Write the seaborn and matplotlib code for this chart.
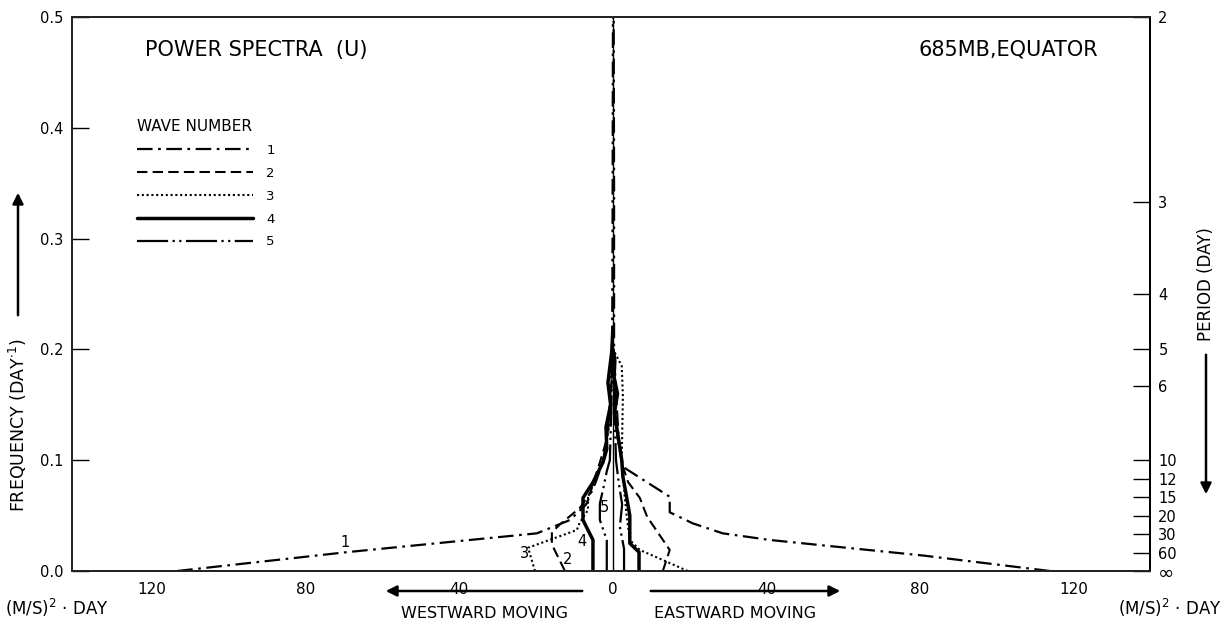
import matplotlib
matplotlib.use("Agg")
import matplotlib.pyplot as plt
import seaborn as sns
from matplotlib.lines import Line2D

sns.set_theme(style="white")
plt.rcParams['font.family'] = ['DejaVu Sans']
plt.rcParams['text.color'] = 'black'
plt.rcParams['xtick.color'] = 'black'
plt.rcParams['ytick.color'] = 'black'
plt.rcParams['axes.labelcolor'] = 'black'

# ---- data: power (west negative / east positive) vs frequency (day^-1) ----
w1_west_pow = [-113.5, -69.3, -19.8, -11.2, -7.0, -4.5, -2.5, -1.2, -0.5, -0.2, -0.1, 0.0]
w1_west_frq = [0.0, 0.017, 0.034, 0.046, 0.060, 0.080, 0.100, 0.130, 0.170, 0.200, 0.300, 0.500]
w1_east_pow = [113.8, 80.7, 40.9, 28.6, 20.8, 14.8, 14.8, 2.6, 1.5, 0.8, 0.3, 0.3, 0.2]
w1_east_frq = [0.0, 0.014, 0.028, 0.034, 0.043, 0.053, 0.067, 0.094, 0.120, 0.160, 0.200, 0.350, 0.500]

w2_west_pow = [-12.5, -15.9, -15.9, -13.8, -8.6, -6.0, -3.4, -1.5, -0.5, 0.0]
w2_west_frq = [0.0, 0.024, 0.035, 0.042, 0.057, 0.070, 0.098, 0.120, 0.160, 0.200]
w2_east_pow = [13.0, 14.8, 8.9, 7.0, 4.0, 2.5, 1.2, 0.5, 0.2]
w2_east_frq = [0.0, 0.019, 0.049, 0.066, 0.080, 0.095, 0.120, 0.150, 0.190]

w3_west_pow = [-20.3, -22.1, -9.4, -8.6, -6.5, -6.5, -4.7, -2.5, -1.0, -0.3, 0.0]
w3_west_frq = [0.0, 0.021, 0.037, 0.044, 0.055, 0.066, 0.082, 0.100, 0.130, 0.170, 0.200]
w3_east_pow = [19.5, 7.0, 4.4, 3.6, 3.0, 2.3, 2.6, 2.3, 0.5, 0.0]
w3_east_frq = [0.0, 0.019, 0.028, 0.049, 0.070, 0.103, 0.157, 0.185, 0.197, 0.200]

w4_west_pow = [-5.2, -5.2, -7.8, -7.8, -5.2, -2.6, -1.6, -1.8, -0.6, -1.3, -0.3, 0.0]
w4_west_frq = [0.0, 0.028, 0.046, 0.066, 0.080, 0.098, 0.110, 0.130, 0.150, 0.170, 0.198, 0.220]
w4_east_pow = [6.8, 6.8, 4.4, 4.4, 3.4, 2.6, 2.3, 1.2, 0.4, 1.2, 0.3, 0.5, 0.0]
w4_east_frq = [0.0, 0.017, 0.025, 0.050, 0.070, 0.085, 0.100, 0.125, 0.143, 0.160, 0.175, 0.190, 0.200]

w5_west_pow = [-1.6, -1.6, -3.4, -3.4, -2.6, -1.6, -0.8, -0.4, -0.2]
w5_west_frq = [0.0, 0.028, 0.046, 0.061, 0.073, 0.090, 0.100, 0.150, 0.200]
w5_east_pow = [2.9, 2.9, 1.8, 2.4, 1.5, 0.8, 0.4, 0.2]
w5_east_frq = [0.0, 0.020, 0.040, 0.060, 0.080, 0.100, 0.150, 0.200]

wave_labels = ["1", "2", "3", "4", "5"]
curve_labels = {"1": (-69.8, 0.026), "2": (-11.7, 0.010), "3": (-23.0, 0.016),
                "4": (-8.0, 0.027), "5": (-2.3, 0.057)}

x_ticks = [-120, -80, -40, 0, 40, 80, 120]
x_ticklabels = ["120", "80", "40", "0", "40", "80", "120"]
y_ticks = [0.0, 0.1, 0.2, 0.3, 0.4, 0.5]
y_ticklabels = ["0.0", "0.1", "0.2", "0.3", "0.4", "0.5"]
periods = [2, 3, 4, 5, 6, 10, 12, 15, 20, 30, 60]
period_labels = ["2", "3", "4", "5", "6", "10", "12", "15", "20", "30", "60", "∞"]

# ---- styles ----
styles = {
    "1": dict(linestyle=(0, (7, 2.5, 1.2, 2.5)), lw=1.6),
    "2": dict(linestyle=(0, (5, 2.5)), lw=1.5),
    "3": dict(linestyle=(0, (1, 1.3)), lw=1.5),
    "4": dict(linestyle="-", lw=2.5),
    "5": dict(linestyle=(0, (14, 2, 1, 2, 1, 2)), lw=1.6),
}
data = {
    "1": [(w1_west_pow, w1_west_frq), (w1_east_pow, w1_east_frq)],
    "2": [(w2_west_pow, w2_west_frq), (w2_east_pow, w2_east_frq)],
    "3": [(w3_west_pow, w3_west_frq), (w3_east_pow, w3_east_frq)],
    "4": [(w4_west_pow, w4_west_frq), (w4_east_pow, w4_east_frq)],
    "5": [(w5_west_pow, w5_west_frq), (w5_east_pow, w5_east_frq)],
}

W, H = 1225, 635
fig = plt.figure(figsize=(W / 100, H / 100), dpi=100)
L, R, T, B = 72, 1150, 17, 571
ax = fig.add_axes([L / W, 1 - B / H, (R - L) / W, (B - T) / H])

for k in wave_labels:
    for xs, ys in data[k]:
        sns.lineplot(x=xs, y=ys, sort=False, estimator=None, color="black",
                     ax=ax, legend=False, **styles[k])

ax.axvline(0, color="black", lw=1.0)

ax.set_xlim(-140.9, 139.9)
ax.set_ylim(0, 0.5)
ax.set_xticks(x_ticks)
ax.set_xticklabels(x_ticklabels, fontsize=11)
ax.set_yticks(y_ticks)
ax.set_yticklabels(y_ticklabels, fontsize=10.5)
ax.tick_params(axis="x", direction="in", length=6, width=1, pad=8, colors="black")
ax.tick_params(axis="y", direction="in", length=12, width=1, pad=6, colors="black")
for s in ax.spines.values():
    s.set_color("black")
    s.set_linewidth(1.3)
ax.set_xlabel("")
ax.set_ylabel("")

ax2 = ax.twinx()
ax2.set_ylim(0, 0.5)
ax2.set_yticks([1.0 / p for p in periods] + [0.0])
ax2.set_yticklabels(period_labels, fontsize=10.5)
ax2.tick_params(axis="y", direction="in", length=12, width=1, pad=6, colors="black")
ax2.spines["right"].set_linewidth(1.3)
ax2.spines["right"].set_color("black")
ax2.grid(False)
for lab in ax2.get_yticklabels():
    if lab.get_text() == "∞":
        lab.set_fontsize(14)

for k, (xv, yv) in curve_labels.items():
    ax.text(xv, yv, k, fontsize=10.5, ha="center", va="center", color="black")

# legend
handles = [Line2D([], [], color="black", **styles[k]) for k in wave_labels]
leg = ax.legend(handles, wave_labels, title="WAVE NUMBER", loc="upper left",
                bbox_to_anchor=((137 - L) / (R - L), 1 - (119 - T) / (B - T)),
                frameon=False, fontsize=9.5, title_fontsize=11,
                handlelength=8.8, handletextpad=1.0, labelspacing=0.75,
                borderaxespad=0, borderpad=0)
leg._legend_box.align = "left"

def fx(x):
    return x / W

def fy(y):
    return 1 - y / H

fig.text(fx(145), fy(50), "POWER SPECTRA  (U)", fontsize=15, va="center", ha="left")
fig.text(fx(1098), fy(50), "685MB,EQUATOR", fontsize=15, va="center", ha="right")

fig.text(fx(5), fy(608), "(M/S)$^2$ · DAY", fontsize=12, va="center", ha="left")
fig.text(fx(1222), fy(608), "(M/S)$^2$ · DAY", fontsize=12, va="center", ha="right")
fig.text(fx(485), fy(613), "WESTWARD MOVING", fontsize=11.5, va="center", ha="center")
fig.text(fx(735), fy(613), "EASTWARD MOVING", fontsize=11.5, va="center", ha="center")

arrow = dict(arrowstyle="-|>", color="black", lw=1.8, mutation_scale=16)
fig.add_artist(plt.Annotation("", xy=(fx(383), fy(591)), xytext=(fx(585), fy(591)),
                              xycoords="figure fraction", textcoords="figure fraction",
                              arrowprops=arrow))
fig.add_artist(plt.Annotation("", xy=(fx(843), fy(591)), xytext=(fx(648), fy(591)),
                              xycoords="figure fraction", textcoords="figure fraction",
                              arrowprops=arrow))

fig.text(fx(18), fy(425), "FREQUENCY (DAY$^{\\cdot 1}$)", fontsize=12.5, rotation=90,
         va="center", ha="center")
fig.add_artist(plt.Annotation("", xy=(fx(18), fy(190)), xytext=(fx(18), fy(318)),
                              xycoords="figure fraction", textcoords="figure fraction",
                              arrowprops=arrow))
fig.text(fx(1206), fy(284), "PERIOD (DAY)", fontsize=12, rotation=90,
         va="center", ha="center")
fig.add_artist(plt.Annotation("", xy=(fx(1206), fy(497)), xytext=(fx(1206), fy(352)),
                              xycoords="figure fraction", textcoords="figure fraction",
                              arrowprops=arrow))

fig.savefig("out.png", dpi=100, facecolor="white")
